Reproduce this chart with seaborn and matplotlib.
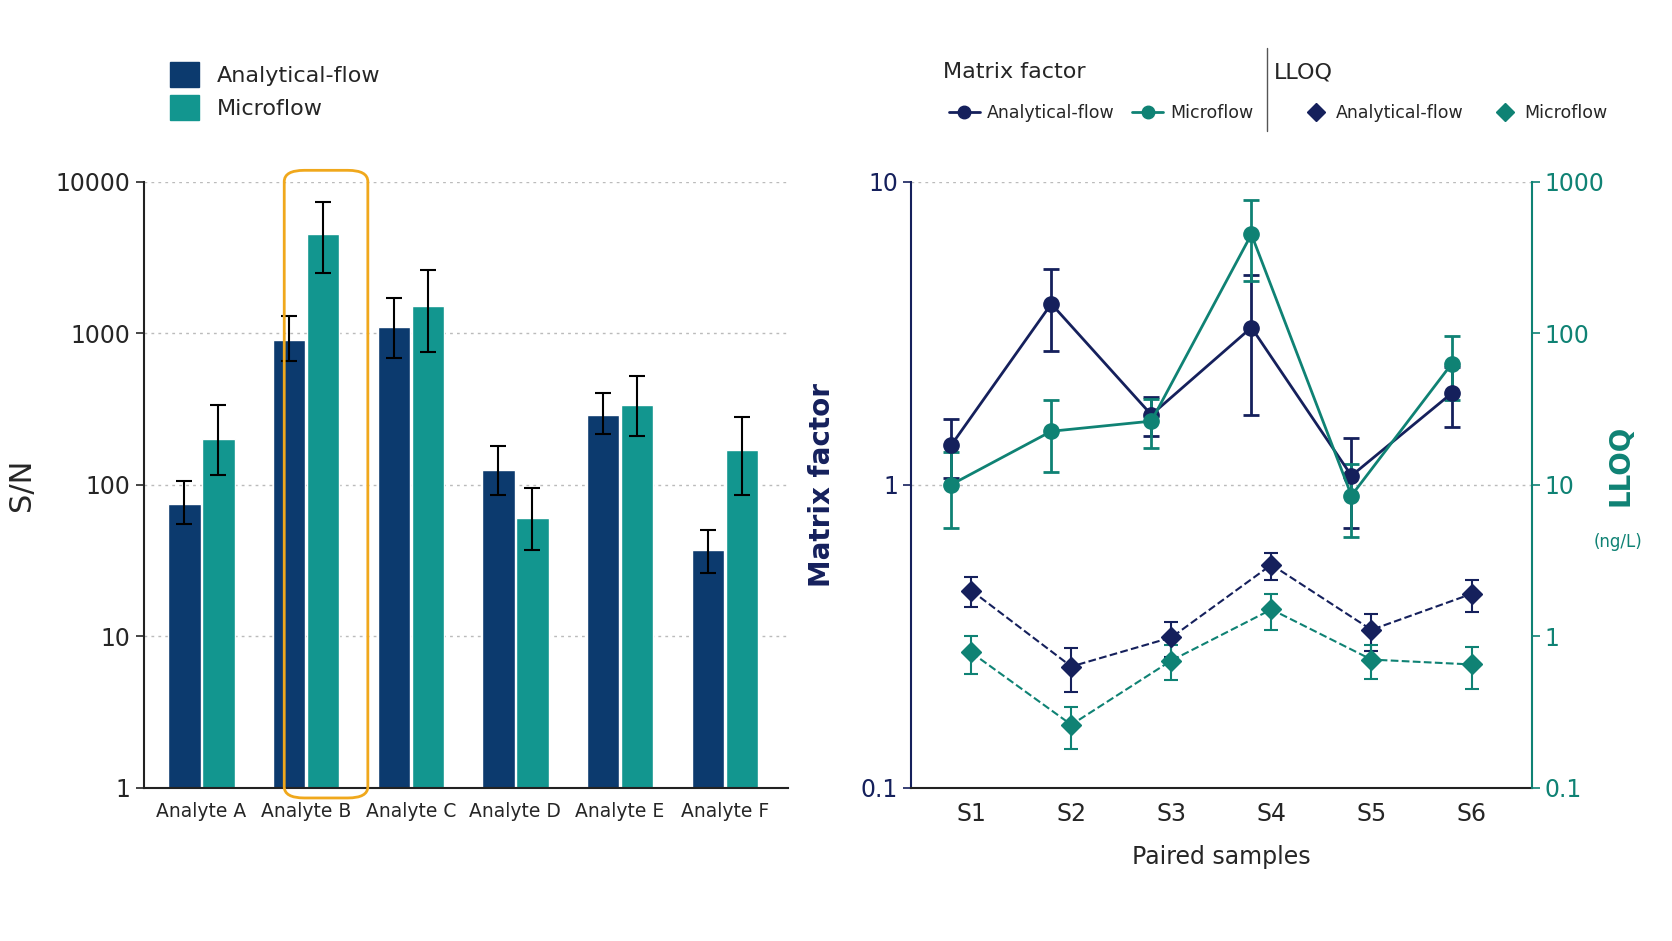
import numpy as np
import pandas as pd
import matplotlib
matplotlib.use("Agg")
import matplotlib.pyplot as plt
import seaborn as sns
from matplotlib.patches import FancyBboxPatch, Patch
from matplotlib.lines import Line2D

analytes = ["Analyte A", "Analyte B", "Analyte C", "Analyte D", "Analyte E", "Analyte F"]
sn_af = [75, 900, 1100, 125, 290, 37]
sn_af_lo = [55, 650, 680, 85, 215, 26]
sn_af_hi = [105, 1300, 1700, 180, 400, 50]
sn_mf = [200, 4500, 1500, 60, 335, 170]
sn_mf_lo = [115, 2500, 750, 37, 210, 85]
sn_mf_hi = [335, 7300, 2600, 95, 520, 280]

samples = ["S1", "S2", "S3", "S4", "S5", "S6"]
mf_af = [1.35, 3.95, 1.7, 3.3, 1.07, 2.0]
mf_af_err = [0.3, 1.2, 0.25, 1.6, 0.35, 0.45]
mf_mf = [1.0, 1.5, 1.62, 6.7, 0.92, 2.5]
mf_mf_err = [0.28, 0.4, 0.3, 2.0, 0.25, 0.6]
lloq_af = [2.0, 0.63, 0.98, 2.96, 1.1, 1.9]
lloq_af_err = [0.45, 0.2, 0.25, 0.6, 0.3, 0.45]
lloq_mf = [0.78, 0.26, 0.69, 1.5, 0.7, 0.65]
lloq_mf_err = [0.22, 0.08, 0.18, 0.4, 0.18, 0.2]

NAVY = "#0c3a6e"
TEAL = "#12968f"
NAVY2 = "#15205c"
TEAL2 = "#0f8274"

sns.set_theme(style="white")
plt.rcParams["font.family"] = ["DejaVu Sans"]
fig = plt.figure(figsize=(16.72, 9.41), dpi=100)

# ---- left bar chart ----
ax = fig.add_axes([0.086, 0.163, 0.385, 0.644])
df = pd.DataFrame({
    "Analyte": analytes * 2,
    "S/N": sn_af + sn_mf,
    "Flow": ["Analytical-flow"] * 6 + ["Microflow"] * 6,
})
sns.barplot(data=df, x="Analyte", y="S/N", hue="Flow", palette=[NAVY, TEAL],
            width=0.65, gap=0.05, errorbar=None, ax=ax, legend=False, log_scale=True,
            saturation=1)
ax.set_yscale("log")
ax.set_ylim(1, 10000)
ax.set_xlim(-0.55, 5.6)
bars = ax.patches[:12]
vals = sn_af + sn_mf
los = sn_af_lo + sn_mf_lo
his = sn_af_hi + sn_mf_hi
for b, v, lo, hi in zip(bars, vals, los, his):
    xc = b.get_x() + b.get_width() / 2
    ax.errorbar(xc, v, yerr=[[v - lo], [hi - v]], fmt="none", ecolor="black",
                elinewidth=1.5, capsize=6, capthick=1.5)
ax.set_yticks([1, 10, 100, 1000, 10000])
ax.set_yticklabels(["1", "10", "100", "1000", "10000"], fontsize=17)
ax.minorticks_off()
ax.yaxis.grid(True, linestyle=(0, (2, 3)), color="#bbbbbb", linewidth=1)
ax.set_axisbelow(True)
ax.set_xlabel("")
ax.set_ylabel("S/N", fontsize=22, labelpad=14)
ax.tick_params(axis="x", labelsize=13.5, length=0, pad=10)
ax.tick_params(axis="y", length=6, width=1.2, left=True)
for s in ["top", "right"]:
    ax.spines[s].set_visible(False)
for s in ["left", "bottom"]:
    ax.spines[s].set_color("#222222")
    ax.spines[s].set_linewidth(1.5)

box = FancyBboxPatch((0.170, 0.152), 0.050, 0.667,
                     boxstyle="round,pad=0,rounding_size=0.012",
                     transform=fig.transFigure, fill=False,
                     edgecolor="#f0a81c", linewidth=2, clip_on=False)
fig.patches.append(box)

fig.legend(handles=[Patch(color=NAVY, label="Analytical-flow"),
                    Patch(color=TEAL, label="Microflow")],
           loc="upper left", bbox_to_anchor=(0.090, 0.955), frameon=False,
           fontsize=16, handlelength=1.3, handleheight=1.3, labelspacing=0.4)

# ---- right chart ----
ax2 = fig.add_axes([0.545, 0.163, 0.371, 0.644])
x = np.arange(len(samples))
off = -0.2
ax2.errorbar(x + off, mf_af, yerr=mf_af_err, color=NAVY2, marker="o", ms=11,
             lw=2, capsize=6, capthick=2, elinewidth=2)
ax2.errorbar(x + off, mf_mf, yerr=mf_mf_err, color=TEAL2, marker="o", ms=11,
             lw=2, capsize=6, capthick=2, elinewidth=2)
ax2.set_yscale("log")
ax2.set_ylim(0.1, 10)
ax2.set_xlim(-0.6, 5.6)
ax2.set_xticks(x)
ax2.set_xticklabels(samples, fontsize=17)
ax2.set_yticks([0.1, 1, 10])
ax2.set_yticklabels(["0.1", "1", "10"], fontsize=17, color=NAVY2)
ax2.minorticks_off()
ax2.yaxis.grid(True, linestyle=(0, (2, 3)), color="#bbbbbb", linewidth=1)
ax2.tick_params(axis="y", length=6, width=1.2, left=True, colors=NAVY2)
ax2.tick_params(axis="x", length=0, pad=10)
ax2.set_ylabel("Matrix factor", fontsize=20, fontweight="bold", color=NAVY2, labelpad=18)
ax2.set_xlabel("Paired samples", fontsize=17, labelpad=14)
ax2.spines["top"].set_visible(False)
ax2.spines["right"].set_visible(False)
ax2.spines["left"].set_color(NAVY2)
ax2.spines["left"].set_linewidth(1.5)
ax2.spines["bottom"].set_color("#222222")
ax2.spines["bottom"].set_linewidth(1.5)

ax3 = ax2.twinx()
ax3.errorbar(x, lloq_af, yerr=lloq_af_err, color=NAVY2, marker="D", ms=10,
             lw=1.5, ls="--", capsize=5, capthick=1.5, elinewidth=1.5)
ax3.errorbar(x, lloq_mf, yerr=lloq_mf_err, color=TEAL2, marker="D", ms=10,
             lw=1.5, ls="--", capsize=5, capthick=1.5, elinewidth=1.5)
ax3.set_yscale("log")
ax3.set_ylim(0.1, 1000)
ax3.set_yticks([0.1, 1, 10, 100, 1000])
ax3.set_yticklabels(["0.1", "1", "10", "100", "1000"], fontsize=17, color=TEAL2)
ax3.minorticks_off()
ax3.tick_params(axis="y", length=6, width=1.2, right=True, colors=TEAL2)
for s in ["top", "left", "bottom"]:
    ax3.spines[s].set_visible(False)
ax3.spines["right"].set_color(TEAL2)
ax3.spines["right"].set_linewidth(1.5)
ax3.grid(False)
fig.text(0.969, 0.505, "LLOQ", rotation=90, fontsize=20, fontweight="bold",
         color=TEAL2, ha="center", va="center")
fig.text(0.968, 0.424, "(ng/L)", fontsize=12, color=TEAL2, ha="center", va="center")

# right legends
fig.text(0.564, 0.923, "Matrix factor", fontsize=16, va="center")
fig.text(0.762, 0.923, "LLOQ", fontsize=16, va="center")
fig.add_artist(Line2D([0.758, 0.758], [0.861, 0.949], color="#555555", lw=1,
                      transform=fig.transFigure))
h1 = [Line2D([], [], color=NAVY2, marker="o", ms=9, lw=2, label="Analytical-flow"),
      Line2D([], [], color=TEAL2, marker="o", ms=9, lw=2, label="Microflow")]
h2 = [Line2D([], [], color=NAVY2, marker="D", ms=9, lw=0, label="Analytical-flow"),
      Line2D([], [], color=TEAL2, marker="D", ms=9, lw=0, label="Microflow")]
fig.legend(handles=h1, loc="center left", bbox_to_anchor=(0.558, 0.880), ncol=2,
           frameon=False, fontsize=12.5, handlelength=1.8, columnspacing=1.0, handletextpad=0.4)
fig.legend(handles=h2, loc="center left", bbox_to_anchor=(0.770, 0.880), ncol=2,
           frameon=False, fontsize=12.5, handlelength=1.5, columnspacing=1.6, handletextpad=0.4)

fig.savefig("out.png", dpi=100, facecolor="white")
